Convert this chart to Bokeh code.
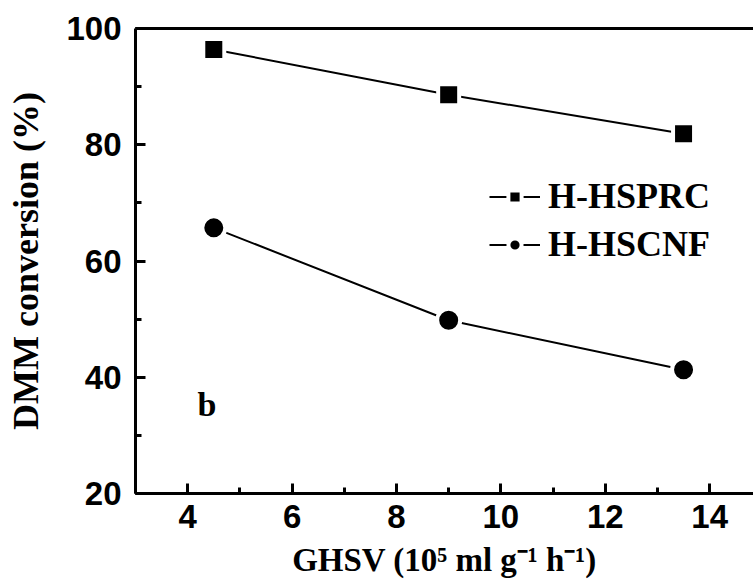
import math
from bokeh.plotting import figure
from bokeh.models import (Range1d, SingleIntervalTicker, FixedTicker, LinearAxis,
                          Label, Legend, LegendItem, ColumnDataSource)
from bokeh.embed import file_html
from bokeh.resources import INLINE

# ---- data ----
ghsv = [4.5, 9.0, 13.5]
hsprc = [96.4, 88.6, 81.9]
hscnf = [65.7, 49.8, 41.3]
series_names = ["H-HSPRC", "H-HSCNF"]
x_label_text = "GHSV (10\u2075 ml g\u207b\u00b9 h\u207b\u00b9)"
y_label_text = "DMM conversion (%)"
panel_tag = "b"

X_START, X_END = 3.0, 14.84
Y_START, Y_END = 20, 100

p = figure(width=753, height=581, output_backend="svg", toolbar_location=None,
           x_range=Range1d(X_START, X_END), y_range=Range1d(Y_START, Y_END),
           min_border_left=135, min_border_right=0, min_border_top=28,
           min_border_bottom=88, background_fill_color="white",
           border_fill_color="white", outline_line_color=None)
p.xgrid.visible = False
p.ygrid.visible = False

p.xaxis.ticker = SingleIntervalTicker(interval=2, num_minor_ticks=2)
p.yaxis.ticker = SingleIntervalTicker(interval=20, num_minor_ticks=2)
for ax in (p.xaxis[0], p.yaxis[0]):
    ax.axis_line_width = 3
    ax.axis_line_color = "black"
    ax.major_tick_line_width = 3
    ax.minor_tick_line_width = 3
    ax.major_tick_line_color = "black"
    ax.minor_tick_line_color = "black"
    ax.major_tick_in = 10
    ax.major_tick_out = 0
    ax.minor_tick_in = 6
    ax.minor_tick_out = 0
    ax.major_label_text_font = "Liberation Sans"
    ax.major_label_text_font_style = "bold"
    ax.major_label_text_font_size = "33px"
    ax.major_label_text_color = "black"
    ax.axis_label_text_font = "Liberation Serif"
    ax.axis_label_text_font_style = "bold"
    ax.axis_label_text_color = "black"
p.xaxis.major_label_standoff = 11
p.yaxis.major_label_standoff = 14
p.xaxis.axis_label = x_label_text
p.xaxis.axis_label_text_font_size = "33px"
p.xaxis.axis_label_standoff = 11
p.yaxis.axis_label = y_label_text
p.yaxis.axis_label_text_font_size = "36px"
p.yaxis.axis_label_standoff = 17

top = LinearAxis(ticker=FixedTicker(ticks=[]), axis_line_width=3, axis_line_color="black",
                 major_tick_line_color=None, minor_tick_line_color=None,
                 major_label_text_font_size="0px")
p.add_layout(top, "above")

# ---- data lines & markers ----
src1 = ColumnDataSource(dict(x=ghsv, y=hsprc))
src2 = ColumnDataSource(dict(x=ghsv, y=hscnf))
l1 = p.line("x", "y", source=src1, line_color="black", line_width=2)
m1 = p.scatter("x", "y", source=src1, marker="square", size=21, fill_color="black",
               line_color="white", line_width=4)
l2 = p.line("x", "y", source=src2, line_color="black", line_width=2)
m2 = p.scatter("x", "y", source=src2, marker="circle", size=23, fill_color="black",
               line_color="white", line_width=4)

legend = Legend(items=[LegendItem(label=series_names[0], renderers=[l1, m1]),
                       LegendItem(label=series_names[1], renderers=[l2, m2])],
                location=(354, 228), glyph_width=51, glyph_height=33,
                label_height=33, spacing=6, padding=0, margin=0,
                label_standoff=8, border_line_color=None, background_fill_alpha=0,
                label_text_font="Liberation Serif", label_text_font_style="bold",
                label_text_font_size="36px", label_text_color="black")
p.add_layout(legend)

# ---- panel tag ----
PX_X = 52.2   # px per x unit
PX_Y = 5.8125 # px per y unit
p.add_layout(Label(x=X_START + (197 - 135) / PX_X, y=Y_START + (493 - 404) / PX_Y,
                   text=panel_tag, text_align="left", text_baseline="alphabetic",
                   text_font="Liberation Serif", text_font_style="bold",
                   text_font_size="34px", text_color="black"))

open("out.html", "w").write(file_html(p, INLINE))
